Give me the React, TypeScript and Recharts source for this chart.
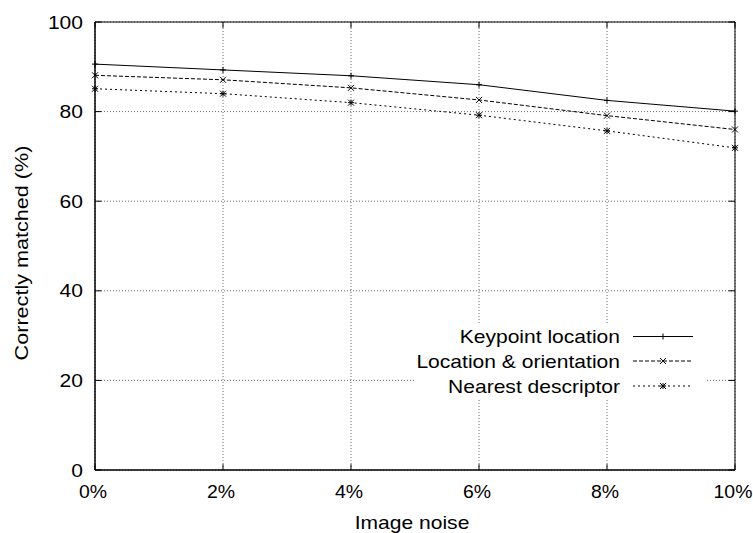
import { LineChart, Line, XAxis, YAxis, CartesianGrid, ReferenceArea, ReferenceLine } from 'recharts';

const noise = [0, 2, 4, 6, 8, 10];
const keypointLocation = [90.6, 89.3, 88.0, 86.0, 82.5, 80.1];
const locationOrientation = [88.1, 87.1, 85.3, 82.6, 79.1, 76.0];
const nearestDescriptor = [85.1, 84.0, 82.0, 79.2, 75.7, 71.9];
const xTicks = [0, 2, 4, 6, 8, 10];
const yTicks = [0, 20, 40, 60, 80, 100];
const seriesNames = ['Keypoint location', 'Location & orientation', 'Nearest descriptor'];

const data = noise.map((n, i) => ({
  noise: n,
  kp: keypointLocation[i],
  lo: locationOrientation[i],
  nd: nearestDescriptor[i],
}));

const font = '"Liberation Sans", Arial, Helvetica, sans-serif';
const fs = 18;
const stretch = 1.17;

type Shape = 'plus' | 'cross' | 'star';

function markerPath(shape: Shape, x: number, y: number, r = 3) {
  const plus = `M${x - r},${y}H${x + r}M${x},${y - r}V${y + r}`;
  const cross = `M${x - r},${y - r}L${x + r},${y + r}M${x - r},${y + r}L${x + r},${y - r}`;
  if (shape === 'plus') return plus;
  if (shape === 'cross') return cross;
  return plus + cross;
}

const makeDot = (shape: Shape) => (props: any) => {
  const { cx, cy, index } = props;
  if (cx == null || cy == null) return <g key={`d-${shape}-${index}`} />;
  return <path key={`d-${shape}-${index}`} d={markerPath(shape, cx, cy)} stroke="#000" strokeWidth={1} fill="none" />;
};

const styles: { key: string; dash?: string; shape: Shape }[] = [
  { key: 'kp', dash: undefined, shape: 'plus' },
  { key: 'lo', dash: '4 2', shape: 'cross' },
  { key: 'nd', dash: '2 3', shape: 'star' },
];

// gnuplot-style text, a bit wider than Helvetica
function WideText({ x, y, anchor, children, rotate = 0, sx = stretch }: any) {
  return (
    <text
      transform={`translate(${x},${y}) rotate(${rotate}) scale(${sx},1)`}
      textAnchor={anchor}
      fontFamily={font}
      fontSize={fs}
      fill="#000"
    >
      {children}
    </text>
  );
}

const XTick = (props: any) => (
  <WideText x={props.x - 2} y={props.y + 13} anchor="middle" sx={1.08}>{`${props.payload.value}%`}</WideText>
);

const YTick = (props: any) => (
  <WideText x={props.x} y={props.y + 6.5} anchor="end">{props.payload.value}</WideText>
);

const XLabel = (props: any) => {
  const vb = props.viewBox;
  return <WideText x={vb.x + vb.width / 2 - 3} y={529} anchor="middle">Image noise</WideText>;
};

const YLabel = (props: any) => {
  const vb = props.viewBox;
  return (
    <WideText x={28} y={vb.y + vb.height / 2 + 7} anchor="middle" rotate={-90} sx={1.2}>
      Correctly matched (%)
    </WideText>
  );
};

function LegendOverlay() {
  const baselines = [343, 367.5, 392.5];
  return (
    <svg width={753} height={533} style={{ position: 'absolute', left: 0, top: 0, pointerEvents: 'none' }}>
      <rect x={415} y={323} width={290} height={77} fill="#fff" />
      {seriesNames.map((name, i) => {
        const b = baselines[i];
        const my = b - 6.5;
        return (
          <g key={name}>
            <WideText x={620} y={b} anchor="end">{name}</WideText>
            <line x1={633} x2={693} y1={my} y2={my} stroke="#000" strokeWidth={1} strokeDasharray={styles[i].dash} />
            <path d={markerPath(styles[i].shape, 663, my)} stroke="#000" strokeWidth={1} fill="none" />
          </g>
        );
      })}
    </svg>
  );
}

export default function App() {
  return (
    <div style={{ position: 'absolute', left: 0, top: 0, width: 753, height: 533, background: '#fff' }}>
      <LineChart width={753} height={533} data={data} margin={{ top: 22, right: 18, bottom: 0, left: 0 }}>
        <CartesianGrid stroke="#444" strokeDasharray="1 2" strokeWidth={0.8} />
        <XAxis
          dataKey="noise"
          type="number"
          domain={[0, 10]}
          ticks={xTicks}
          height={63}
          tickLine={false}
          tickSize={0}
          tickMargin={15}
          axisLine={{ stroke: '#000' }}
          tick={<XTick />}
          label={<XLabel />}
        />
        <YAxis
          type="number"
          domain={[0, 100]}
          ticks={yTicks}
          width={95}
          tickLine={false}
          tickSize={0}
          tickMargin={12}
          axisLine={{ stroke: '#000' }}
          tick={<YTick />}
          label={<YLabel />}
        />
        <ReferenceArea x1={0} x2={10} y1={0} y2={100} fill="none" stroke="#000" strokeWidth={1} />
        {xTicks.map((t) => (
          <ReferenceLine key={`xb${t}`} segment={[{ x: t, y: 0 }, { x: t, y: 1.3 }]} stroke="#000" />
        ))}
        {xTicks.map((t) => (
          <ReferenceLine key={`xt${t}`} segment={[{ x: t, y: 100 }, { x: t, y: 98.7 }]} stroke="#000" />
        ))}
        {yTicks.map((t) => (
          <ReferenceLine key={`yl${t}`} segment={[{ x: 0, y: t }, { x: 0.1, y: t }]} stroke="#000" />
        ))}
        {yTicks.map((t) => (
          <ReferenceLine key={`yr${t}`} segment={[{ x: 10, y: t }, { x: 9.9, y: t }]} stroke="#000" />
        ))}
        {styles.map((s, i) => (
          <Line
            key={s.key}
            name={seriesNames[i]}
            type="linear"
            dataKey={s.key}
            stroke="#000"
            strokeWidth={1}
            strokeDasharray={s.dash}
            dot={makeDot(s.shape)}
            activeDot={false}
            isAnimationActive={false}
          />
        ))}
      </LineChart>
      <LegendOverlay />
    </div>
  );
}
